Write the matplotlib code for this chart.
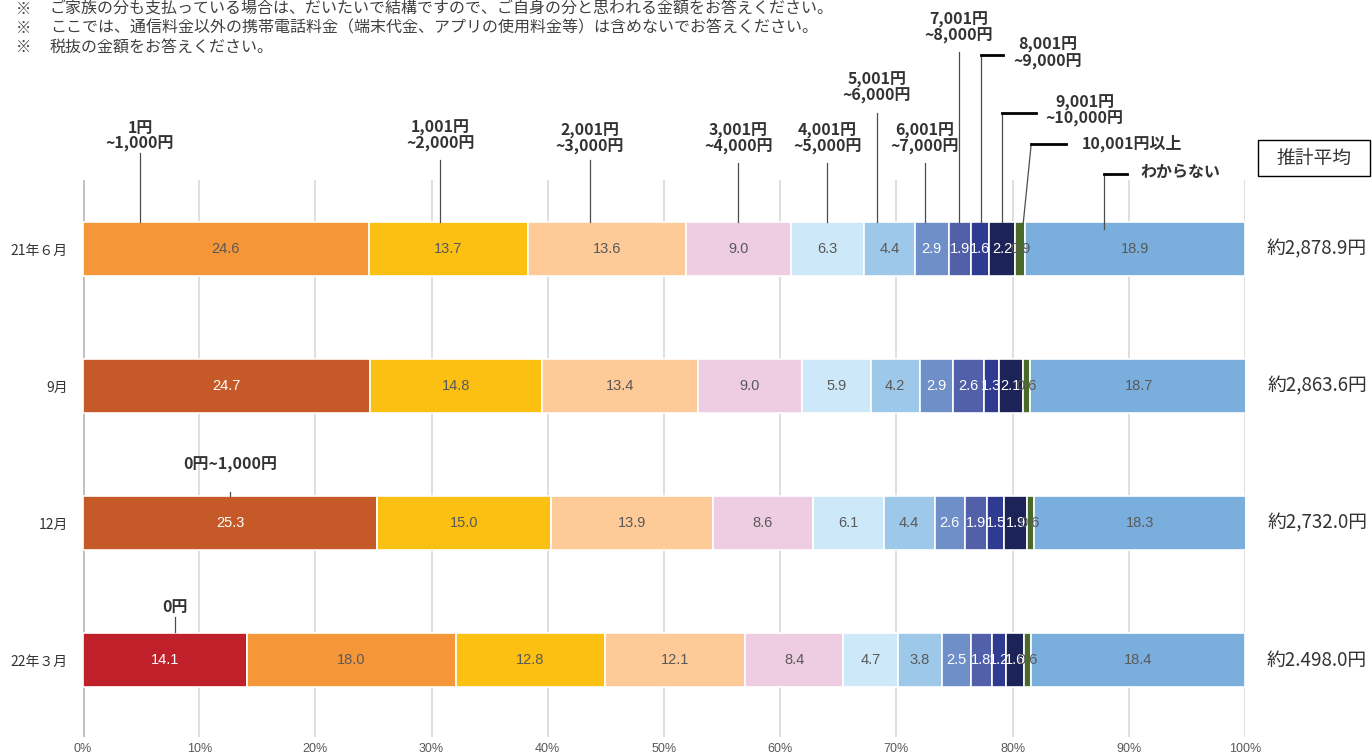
"""
Monthly mobile communication fee distribution, stacked 100% bars by survey wave.
"""

import matplotlib
matplotlib.use("Agg")
import matplotlib.pyplot as plt
from matplotlib.patches import Rectangle

plt.rcParams["font.family"] = ["Noto Sans CJK JP", "DejaVu Sans"]

# ── Data ───────────────────────────────────────────────────────────────────────
WAVES = ["21年６月", "9月", "12月", "22年３月"]

CATEGORIES = [
    "0円", "1円~1,000円", "1,001円~2,000円", "2,001円~3,000円", "3,001円~4,000円",
    "4,001円~5,000円", "5,001円~6,000円", "6,001円~7,000円", "7,001円~8,000円",
    "8,001円~9,000円", "9,001円~10,000円", "10,001円以上", "わからない",
]

share_0 = [0.0, 0.0, 0.0, 14.1]
share_1k = [24.6, 24.7, 25.3, 18.0]
share_2k = [13.7, 14.8, 15.0, 12.8]
share_3k = [13.6, 13.4, 13.9, 12.1]
share_4k = [9.0, 9.0, 8.6, 8.4]
share_5k = [6.3, 5.9, 6.1, 4.7]
share_6k = [4.4, 4.2, 4.4, 3.8]
share_7k = [2.9, 2.9, 2.6, 2.5]
share_8k = [1.9, 2.6, 1.9, 1.8]
share_9k = [1.6, 1.3, 1.5, 1.2]
share_10k = [2.2, 2.1, 1.9, 1.6]
share_over = [0.9, 0.6, 0.6, 0.6]
share_dk = [18.9, 18.7, 18.3, 18.4]

SHARES = [share_0, share_1k, share_2k, share_3k, share_4k, share_5k, share_6k,
          share_7k, share_8k, share_9k, share_10k, share_over, share_dk]

AVERAGES = ["約2,878.9円", "約2,863.6円", "約2,732.0円", "約2.498.0円"]

NOTES = [
    "ご家族の分も支払っている場合は、だいたいで結構ですので、ご自身の分と思われる金額をお答えください。",
    "ここでは、通信料金以外の携帯電話料金（端末代金、アプリの使用料金等）は含めないでお答えください。",
    "税抜の金額をお答えください。",
]

# ── Styles ─────────────────────────────────────────────────────────────────────
COLORS = ["#C0202A", "#F59639", "#FBC012", "#FDCA98", "#EECDE2", "#CDE8F8",
          "#9DC8EA", "#6E8FC7", "#5160A9", "#2F3A91", "#1C2457", "#4A6A2B",
          "#7AAEDD"]
# the 9月 and 12月 waves had "0円~1,000円" as the first bracket
FIRST_COLOR = ["#F59639", "#C55A28", "#C55A28", "#F59639"]
WHITE_TEXT = {0, 7, 8, 9, 10}
BAR_H = 0.395
TXT = "#333333"

fig = plt.figure(figsize=(13.72, 7.54), dpi=100)
ax = fig.add_axes([83 / 1372, 1 - 737 / 754, 1162 / 1372, 557 / 754])

# ── Bars ───────────────────────────────────────────────────────────────────────
starts = []  # starts[row][cat]
for i in range(len(WAVES)):
    left = 0.0
    row_starts = []
    for j, vals in enumerate(SHARES):
        v = vals[i]
        row_starts.append(left)
        if v <= 0:
            continue
        color = FIRST_COLOR[i] if j == 1 else COLORS[j]
        ax.barh(i, v, left=left, height=BAR_H, color=color,
                edgecolor="white", linewidth=1.2, zorder=2)
        white = j in WHITE_TEXT or (j == 1 and i in (1, 2))
        ax.text(left + v / 2, i, f"{v:.1f}", ha="center", va="center",
                fontsize=10.5, family="Liberation Sans",
                color="white" if white else "#595959", zorder=3)
        left += v
    starts.append(row_starts)

ax.set_xlim(0, 100)
ax.set_ylim(len(WAVES) - 1 + 0.562, -0.504)
ax.set_xticks(range(0, 101, 10))
ax.set_xticklabels([f"{t}%" for t in range(0, 101, 10)], fontsize=9,
                   color="#595959", family="Liberation Sans")
ax.set_yticks(range(len(WAVES)))
ax.set_yticklabels(WAVES, fontsize=10, color=TXT)
ax.tick_params(axis="x", length=0, pad=4)
ax.tick_params(axis="y", length=0, pad=11)
ax.grid(axis="x", color="#D9D9D9", linewidth=1.2)
ax.set_axisbelow(True)
ax.axvline(0, color="#BFBFBF", linewidth=2, zorder=1)
for s in ax.spines.values():
    s.set_visible(False)

# ── Category call-outs (first wave) ───────────────────────────────────────────
def seg_x(row, cat, frac):
    return starts[row][cat] + SHARES[cat][row] * frac

top = -BAR_H / 2
lab_kw = dict(ha="center", va="center", fontsize=11.5, fontweight="bold",
              color=TXT, linespacing=1.0, clip_on=False)
line_kw = dict(color="#4D4D4D", linewidth=0.9, clip_on=False)

# (category, fraction along segment, line top, text y)
straight = [
    (1, 0.20, -0.70, -0.825, "1円\n~1,000円"),
    (2, 0.45, -0.65, -0.825, "1,001円\n~2,000円"),
    (3, 0.39, -0.65, -0.803, "2,001円\n~3,000円"),
    (4, 0.50, -0.628, -0.803, "3,001円\n~4,000円"),
    (5, 0.50, -0.628, -0.803, "4,001円\n~5,000円"),
    (6, 0.25, -0.993, -1.175, "5,001円\n~6,000円"),
    (7, 0.30, -0.628, -0.803, "6,001円\n~7,000円"),
    (8, 0.45, -1.438, -1.613, "7,001円\n~8,000円"),
]
for cat, frac, ytop, ytxt, lab in straight:
    x = seg_x(0, cat, frac)
    ax.plot([x, x], [ytop, top], **line_kw)
    ax.text(x, ytxt, lab, **lab_kw)

# elbow call-outs: (category, fraction, elbow y, stub length, text x, text y)
elbow = [
    (9, 0.55, -1.416, 1.9, 83.0, -1.43, "8,001円\n~9,000円"),
    (10, 0.50, -0.993, 2.9, 86.2, -1.007, "9,001円\n~10,000円"),
    (12, 0.36, -0.547, 1.9, 94.4, -0.562, "わからない"),
]
for cat, frac, yel, stub, tx, ty, lab in elbow:
    x = seg_x(0, cat, frac)
    ybot = top + 0.05 if cat == 12 else top
    ax.plot([x, x], [yel, ybot], **line_kw)
    ax.plot([x, x + stub], [yel, yel], color="black", linewidth=2, clip_on=False)
    ax.text(tx, ty, lab, **lab_kw)

# 10,001円以上: slanted leader
x0 = seg_x(0, 11, 0.78)
ax.plot([x0, x0 + 0.7], [top + 0.02, -0.766], **line_kw)
ax.plot([x0 + 0.7, x0 + 3.7], [-0.766, -0.766], color="black", linewidth=2,
        clip_on=False)
ax.text(90.3, -0.774, "10,001円以上", **lab_kw)

# bracket notes on later waves
x = seg_x(2, 1, 0.5)
ax.plot([x, x], [2 - 0.226, 2 - BAR_H / 2], **line_kw)
ax.text(x, 2 - 0.423, "0円~1,000円", **lab_kw)
x = seg_x(3, 0, 0.56)
ax.plot([x, x], [3 - 0.314, 3 - BAR_H / 2 - 0.01], **line_kw)
ax.text(x, 3 - 0.387, "0円", **lab_kw)

# ── Estimated averages ────────────────────────────────────────────────────────
for i, avg in enumerate(AVERAGES):
    ax.text(106.2, i, avg, ha="center", va="center", fontsize=13.5,
            color=TXT, clip_on=False)
fig.add_artist(Rectangle((1258 / 1372, 1 - 176 / 754), 112 / 1372, 36 / 754,
                         transform=fig.transFigure, fill=False,
                         edgecolor="black", linewidth=1))
fig.text(1314 / 1372, 1 - 158 / 754, "推計平均", ha="center", va="center",
         fontsize=13.5, color=TXT)

# ── Header notes ──────────────────────────────────────────────────────────────
for k, note in enumerate(NOTES):
    y = 1 - (9 + 19 * k) / 754
    fig.text(16 / 1372, y, "※", ha="left", va="center", fontsize=11,
             color="#404040")
    fig.text(50 / 1372, y, note, ha="left", va="center", fontsize=11.5,
             color="#404040")

fig.savefig("out.png", dpi=100)
